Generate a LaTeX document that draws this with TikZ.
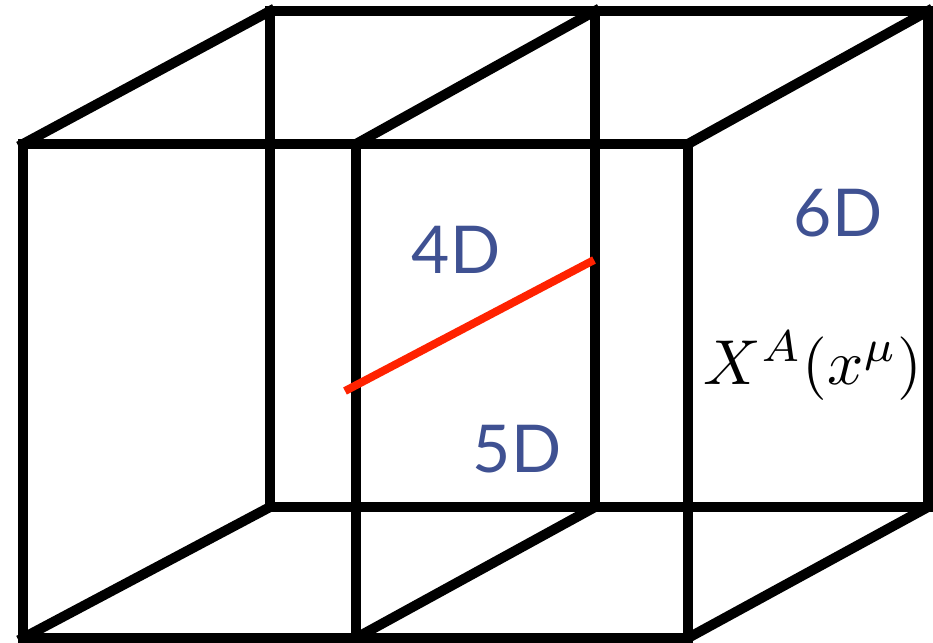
\documentclass[tikz,border=0pt]{standalone}
\usepackage{graphicx}
\usepackage{fontspec}
\newfontfamily\labelfont{Lato}
\definecolor{dimblue}{HTML}{3F5192}
\definecolor{branered}{HTML}{FF2200}
\begin{document}
\begin{tikzpicture}[x=1pt,y=-1pt,
  edge/.style={line width=10pt,black,line join=miter,line cap=rect},
  brane/.style={line width=8pt,branered},
  dimlabel/.style={text=dimblue,font=\labelfont\fontsize{66}{70}\selectfont,inner sep=0pt},
  mathlabel/.style={inner sep=0pt}]
\useasboundingbox (0,0) rectangle (933,642);
% front face corners
\coordinate (fTL) at (23,144);
\coordinate (fTR) at (688,144);
\coordinate (fBR) at (688,638);
\coordinate (fBL) at (23,638);
% back face corners
\coordinate (bTL) at (270,11);
\coordinate (bTR) at (928,11);
\coordinate (bBR) at (928,507);
\coordinate (bBL) at (270,507);
% middle plane
\coordinate (mfT) at (356,144);
\coordinate (mfB) at (356,638);
\coordinate (mbT) at (595,11);
\coordinate (mbB) at (595,507);
% brane end points
\coordinate (rA) at (345,391);
\coordinate (rB) at (594,260);

\draw[edge] (fTL) -- (fTR) -- (fBR) -- (fBL) -- cycle;
\draw[edge] (bTL) -- (bTR) -- (bBR) -- (bBL) -- cycle;
\draw[edge] (fTL) -- (bTL);
\draw[edge] (fTR) -- (bTR);
\draw[edge] (fBL) -- (bBL);
\draw[edge] (fBR) -- (bBR);
\draw[edge] (mfT) -- (mfB);
\draw[edge] (mbT) -- (mbB);
\draw[edge] (mfT) -- (mbT);
\draw[edge] (mfB) -- (mbB);
\draw[brane] (rA) -- (rB);

\node[dimlabel] (l4) at (456,250) {4D};
\node[dimlabel] (l5) at (517,449) {5D};
\node[dimlabel] (l6) at (838,213) {6D};
\node[mathlabel] (lx) at (813,366) {\scalebox{6.35}{\fontsize{10}{12}\selectfont$X^A(x^\mu)$}};
\end{tikzpicture}
\end{document}
